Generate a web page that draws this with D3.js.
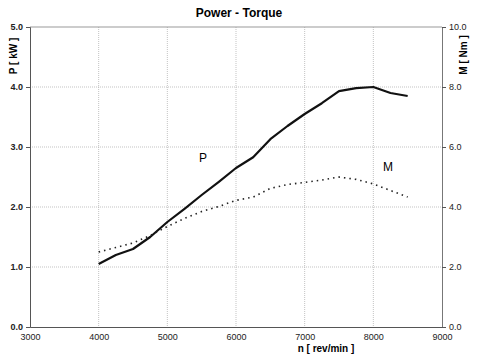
<!DOCTYPE html>
<html>
<head>
<meta charset="utf-8">
<script src="https://cdn.jsdelivr.net/npm/d3@7"></script>
<style>
  body { margin: 0; background: #fff; }
  svg { font-family: "Liberation Sans", Arial, sans-serif; }
</style>
</head>
<body>
<div id="container"></div>
<script>
const rpm = [4000, 4250, 4500, 4750, 5000, 5250, 5500, 5750, 6000, 6250, 6500, 6750, 7000, 7250, 7500, 7750, 8000, 8250, 8500];
const power = [1.05, 1.2, 1.3, 1.5, 1.75, 1.97, 2.2, 2.42, 2.65, 2.83, 3.13, 3.35, 3.55, 3.73, 3.93, 3.98, 4.0, 3.9, 3.85];
const torque = [2.5, 2.65, 2.8, 3.05, 3.35, 3.62, 3.85, 4.02, 4.22, 4.33, 4.62, 4.75, 4.82, 4.9, 5.0, 4.92, 4.77, 4.55, 4.33];
const xTicks = [3000, 4000, 5000, 6000, 7000, 8000, 9000];
const pTicks = [0, 1, 2, 3, 4, 5];
const mTicks = [0, 2, 4, 6, 8, 10];

const w = 480;
const h = 361;
const plotLeft = 30, plotRight = 442, plotTop = 27, plotBottom = 327;

const xScale = d3.scaleLinear().domain([3000, 9000]).range([plotLeft, plotRight]);
const pScale = d3.scaleLinear().domain([0, 5]).range([plotBottom, plotTop]);
const mScale = d3.scaleLinear().domain([0, 10]).range([plotBottom, plotTop]);

const svg = d3.select('#container')
  .append('svg')
  .attr('width', w)
  .attr('height', h);

// grid
svg.append('g')
  .selectAll('line')
  .data(xTicks.slice(1, -1))
  .enter()
  .append('line')
  .attr('x1', d => xScale(d)).attr('x2', d => xScale(d))
  .attr('y1', plotTop).attr('y2', plotBottom)
  .attr('stroke', '#b4b4b4').attr('stroke-width', 0.8)
  .attr('stroke-dasharray', '1,1');
svg.append('g')
  .selectAll('line')
  .data(pTicks.slice(1, -1))
  .enter()
  .append('line')
  .attr('x1', plotLeft).attr('x2', plotRight)
  .attr('y1', d => pScale(d)).attr('y2', d => pScale(d))
  .attr('stroke', '#b4b4b4').attr('stroke-width', 0.8)
  .attr('stroke-dasharray', '1,1');
// top border
svg.append('line')
  .attr('x1', plotLeft).attr('x2', plotRight).attr('y1', plotTop).attr('y2', plotTop)
  .attr('stroke', '#999').attr('stroke-width', 1);

// axes
const xAxis = d3.axisBottom(xScale).tickValues(xTicks).tickSize(0).tickPadding(7).tickFormat(d3.format('d'));
svg.append('g')
  .attr('transform', `translate(0, ${plotBottom})`)
  .call(xAxis)
  .call(g => g.select('.domain').attr('stroke', '#555'))
  .selectAll('text').style('font-size', '9px').attr('fill', '#222');

const yAxis = d3.axisLeft(pScale).tickValues(pTicks).tickSize(4).tickPadding(3).tickFormat(d3.format('.1f'));
svg.append('g')
  .attr('transform', `translate(${plotLeft}, 0)`)
  .call(yAxis)
  .call(g => g.select('.domain').attr('stroke', '#555'))
  .call(g => g.selectAll('.tick line').attr('stroke', '#555'))
  .selectAll('text').style('font-size', '9px').style('font-weight', 'bold').attr('fill', '#222');

const mAxis = d3.axisRight(mScale).tickValues(mTicks).tickSize(4).tickPadding(3).tickFormat(d3.format('.1f'));
svg.append('g')
  .attr('transform', `translate(${plotRight}, 0)`)
  .call(mAxis)
  .call(g => g.select('.domain').attr('stroke', '#777'))
  .call(g => g.selectAll('.tick line').attr('stroke', '#555'))
  .selectAll('text').style('font-size', '9px').attr('fill', '#222');

// lines
const pLine = d3.line().x((d, i) => xScale(rpm[i])).y(d => pScale(d));
const mLine = d3.line().x((d, i) => xScale(rpm[i])).y(d => mScale(d));

svg.append('path')
  .datum(power)
  .attr('d', pLine)
  .attr('fill', 'none')
  .attr('stroke', '#111')
  .attr('stroke-width', 2.2)
  .attr('stroke-linejoin', 'round');

svg.append('path')
  .datum(torque)
  .attr('d', mLine)
  .attr('fill', 'none')
  .attr('stroke', '#222')
  .attr('stroke-width', 1.6)
  .attr('stroke-dasharray', '1.5,4');

// texts
svg.append('text')
  .attr('x', 239).attr('y', 17)
  .attr('text-anchor', 'middle')
  .style('font-size', '12px').style('font-weight', 'bold')
  .text('Power - Torque');

svg.append('text')
  .attr('transform', 'translate(17, 56) rotate(-90)')
  .attr('text-anchor', 'middle')
  .style('font-size', '10px').style('font-weight', 'bold')
  .text('P [ kW ]');

svg.append('text')
  .attr('transform', 'translate(467, 55) rotate(-90)')
  .attr('text-anchor', 'middle')
  .style('font-size', '10px').style('font-weight', 'bold')
  .text('M [ Nm ]');

svg.append('text')
  .attr('x', 326).attr('y', 352)
  .attr('text-anchor', 'middle')
  .style('font-size', '10px').style('font-weight', 'bold')
  .text('n [ rev/min ]');

svg.append('text')
  .attr('x', 203).attr('y', 162)
  .attr('text-anchor', 'middle')
  .style('font-size', '12px')
  .text('P');

svg.append('text')
  .attr('x', 388).attr('y', 171)
  .attr('text-anchor', 'middle')
  .style('font-size', '12px')
  .text('M');
</script>
</body>
</html>
